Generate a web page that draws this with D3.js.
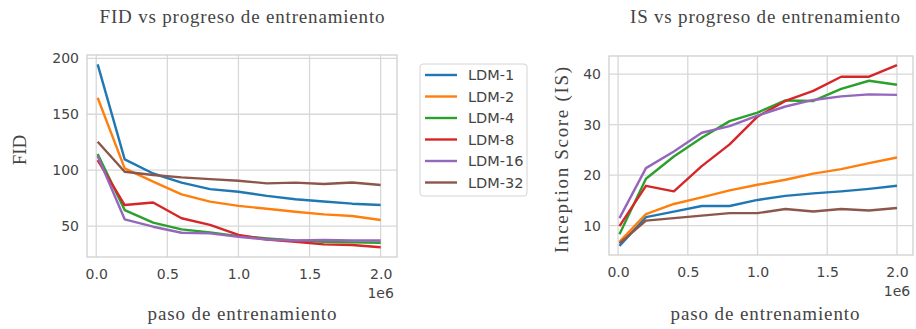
<!DOCTYPE html>
<html>
<head>
<meta charset="utf-8">
<script src="https://cdn.jsdelivr.net/npm/d3@7"></script>
<style>
  body { margin: 0; background: #fff; }
  svg text { fill: #444; }
</style>
</head>
<body>
<div class="chart"></div>
<script>
var svgWidth = 916;
var svgHeight = 329;

var steps = [0.01, 0.2, 0.4, 0.6, 0.8, 1.0, 1.2, 1.4, 1.6, 1.8, 2.0];
var seriesNames = ["LDM-1", "LDM-2", "LDM-4", "LDM-8", "LDM-16", "LDM-32"];
var colors = ["#1f77b4", "#ff7f0e", "#2ca02c", "#d62728", "#9467bd", "#8c564b"];
var xTicks = [0, 0.5, 1.0, 1.5, 2.0];

var fidLdm1 = [194.6, 109.6, 97, 88.8, 83, 80.7, 77, 74, 72, 70, 68.8];
var fidLdm2 = [164.8, 101.6, 89.7, 78.3, 71.8, 68, 65.5, 62.8, 60.4, 59, 55.4];
var fidLdm4 = [114.4, 64.3, 53, 47, 44.3, 41, 39, 37, 36, 35.4, 35];
var fidLdm8 = [109, 68.8, 71, 57, 51, 42, 38, 36, 33.6, 33, 31];
var fidLdm16 = [112.6, 56, 49.4, 44, 43.4, 40.4, 38, 37, 37.5, 37, 37];
var fidLdm32 = [125.4, 98.6, 95.6, 93.5, 92, 90.5, 88.2, 88.8, 87.6, 89, 86.7];
var fidTicks = [50, 100, 150, 200];

var isLdm1 = [6, 11.7, 12.8, 13.9, 13.9, 15.1, 15.9, 16.4, 16.8, 17.3, 17.9];
var isLdm2 = [6.8, 12.3, 14.3, 15.6, 17, 18.1, 19.1, 20.3, 21.2, 22.4, 23.5];
var isLdm4 = [8.3, 19.3, 23.7, 27.4, 30.7, 32.4, 34.8, 34.7, 37.1, 38.7, 37.9];
var isLdm8 = [9.9, 17.9, 16.8, 21.8, 26.1, 31.6, 34.7, 36.7, 39.5, 39.5, 41.8];
var isLdm16 = [11.5, 21.4, 24.7, 28.4, 29.7, 31.8, 33.6, 34.9, 35.6, 36, 35.9];
var isLdm32 = [6.5, 11, 11.5, 12, 12.5, 12.5, 13.3, 12.8, 13.3, 13, 13.5];
var isTicks = [10, 20, 30, 40];

var fidData = [fidLdm1, fidLdm2, fidLdm4, fidLdm8, fidLdm16, fidLdm32];
var isData = [isLdm1, isLdm2, isLdm4, isLdm8, isLdm16, isLdm32];

var svg = d3.select(".chart")
  .append("svg")
  .attr("width", svgWidth)
  .attr("height", svgHeight);

var serif = "'Liberation Serif', 'DejaVu Serif', serif";
var sans = "'DejaVu Sans', sans-serif";

function serifText(g, txt, len) {
  var t = g.append("text")
    .attr("text-anchor", "middle")
    .attr("font-family", serif)
    .attr("font-size", "19px")
    .attr("fill", "#222")
    .text(txt);
  if (len) t.attr("textLength", len).attr("lengthAdjust", "spacing");
  return t;
}

function drawPanel(opts) {
  var x = d3.scaleLinear().domain([-0.065, 2.115]).range([opts.left, opts.right]);
  var y = d3.scaleLinear().domain(opts.yDomain).range([opts.bottom, opts.top]);

  var g = svg.append("g");

  // grid
  g.append("g").selectAll("line.vx")
    .data(xTicks).enter().append("line")
    .attr("x1", d => x(d)).attr("x2", d => x(d))
    .attr("y1", opts.top).attr("y2", opts.bottom)
    .attr("stroke", "#d8d8d8").attr("stroke-width", 1.3);
  g.append("g").selectAll("line.hy")
    .data(opts.yTicks).enter().append("line")
    .attr("x1", opts.left).attr("x2", opts.right)
    .attr("y1", d => y(d)).attr("y2", d => y(d))
    .attr("stroke", "#d8d8d8").attr("stroke-width", 1.3);

  g.append("rect")
    .attr("x", opts.left).attr("y", opts.top)
    .attr("width", opts.right - opts.left).attr("height", opts.bottom - opts.top)
    .attr("fill", "none").attr("stroke", "#cfcfcf").attr("stroke-width", 1.3);

  // axes (labels only, seaborn whitegrid look)
  var bottomAxis = d3.axisBottom(x).tickValues(xTicks).tickFormat(d3.format(".1f")).tickSize(0).tickPadding(12);
  var xAxis = g.append("g")
    .attr("transform", `translate(0, ${opts.bottom})`)
    .call(bottomAxis);
  var leftAxis = d3.axisLeft(y).tickValues(opts.yTicks).tickSize(0).tickPadding(8);
  var yAxis = g.append("g")
    .attr("transform", `translate(${opts.left}, 0)`)
    .call(leftAxis);
  [xAxis, yAxis].forEach(function(a) {
    a.select(".domain").remove();
    a.selectAll("text")
      .attr("font-family", sans)
      .attr("font-size", "14px")
      .attr("fill", "#555");
  });

  g.append("text")
    .attr("x", x(2.0))
    .attr("y", opts.bottom + 41)
    .attr("text-anchor", "middle")
    .attr("font-family", sans)
    .attr("font-size", "14px")
    .attr("fill", "#555")
    .text("1e6");

  var line = d3.line()
    .x((d, i) => x(steps[i]))
    .y(d => y(d));

  g.append("g").selectAll("path")
    .data(opts.data).enter().append("path")
    .attr("d", d => line(d))
    .attr("fill", "none")
    .attr("stroke", (d, i) => colors[i])
    .attr("stroke-width", 2.4)
    .attr("stroke-linejoin", "round");

  serifText(g, opts.title, opts.titleLen)
    .attr("x", opts.titleX).attr("y", 23);

  serifText(g, "paso de entrenamiento", 189)
    .attr("x", opts.titleX).attr("y", 320);

  serifText(g, opts.yLabel, opts.yLabelLen)
    .attr("transform", `translate(${opts.yLabelX}, ${opts.yLabelY}) rotate(-90)`);
}

drawPanel({
  left: 87, right: 397, top: 55, bottom: 257,
  yDomain: [22.3, 203], yTicks: fidTicks, data: fidData,
  title: "FID vs progreso de entrenamiento", titleLen: 285, titleX: 242,
  yLabel: "FID", yLabelLen: null, yLabelX: 26, yLabelY: 150
});

drawPanel({
  left: 609, right: 913, top: 56, bottom: 255,
  yDomain: [4.2, 43.6], yTicks: isTicks, data: isData,
  title: "IS vs progreso de entrenamiento", titleLen: 270, titleX: 765,
  yLabel: "Inception Score (IS)", yLabelLen: 186, yLabelX: 568, yLabelY: 160
});

// legend
var legend = svg.append("g").attr("transform", "translate(420, 64)");
legend.append("rect")
  .attr("x", 0).attr("y", 0)
  .attr("width", 107).attr("height", 132)
  .attr("rx", 3)
  .attr("fill", "#fff").attr("stroke", "#d4d4d4");
var rows = legend.selectAll("g.row")
  .data(seriesNames).enter().append("g")
  .attr("transform", (d, i) => `translate(0, ${11 + i * 21.5})`);
rows.append("line")
  .attr("x1", 5).attr("x2", 37)
  .attr("y1", 0).attr("y2", 0)
  .attr("stroke", (d, i) => colors[i])
  .attr("stroke-width", 2.4);
rows.append("text")
  .attr("x", 48).attr("y", 5)
  .attr("font-family", sans)
  .attr("font-size", "14.5px")
  .attr("fill", "#444")
  .text(d => d);
</script>
</body>
</html>
